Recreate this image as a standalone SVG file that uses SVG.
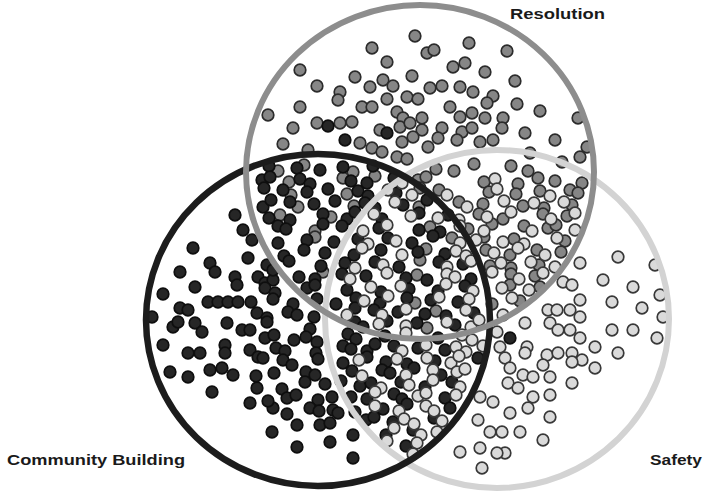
<svg xmlns="http://www.w3.org/2000/svg" width="706" height="491" viewBox="0 0 706 491">
<style>
.lbl{font-family:"Liberation Sans",Arial,sans-serif;font-weight:bold;font-size:15px;fill:#1a1a1a}
.ring{fill:none}
</style>
<defs>
<circle id="g" r="5.8" fill="#868686" stroke="#2b2b2b" stroke-width="1.7"/>
<circle id="k" r="5.8" fill="#262626" stroke="#0e0e0e" stroke-width="1.7"/>
<circle id="w" r="5.8" fill="#dadada" stroke="#383838" stroke-width="1.7"/>
</defs>
<rect width="706" height="491" fill="#fff"/>
<g id="dots-resolution">
<use href="#g" x="415" y="36"/><use href="#g" x="372" y="48"/><use href="#g" x="469" y="43"/><use href="#g" x="507" y="51"/><use href="#g" x="427" y="53"/><use href="#g" x="434" y="50"/><use href="#g" x="387" y="62"/><use href="#g" x="453" y="67"/><use href="#g" x="465" y="63"/><use href="#g" x="485" y="72"/><use href="#g" x="300" y="70"/><use href="#g" x="355" y="77"/><use href="#g" x="412" y="76"/><use href="#g" x="515" y="81"/><use href="#g" x="317" y="86"/><use href="#g" x="340" y="92"/><use href="#g" x="338" y="100"/><use href="#g" x="370" y="87"/><use href="#g" x="383" y="80"/><use href="#g" x="393" y="86"/><use href="#g" x="430" y="88"/><use href="#g" x="442" y="86"/><use href="#g" x="460" y="87"/><use href="#g" x="473" y="92"/><use href="#g" x="493" y="96"/><use href="#g" x="387" y="99"/><use href="#g" x="407" y="97"/><use href="#g" x="418" y="99"/><use href="#g" x="300" y="107"/><use href="#g" x="362" y="107"/><use href="#g" x="372" y="107"/><use href="#g" x="450" y="107"/><use href="#g" x="487" y="103"/><use href="#g" x="517" y="104"/><use href="#g" x="540" y="111"/><use href="#g" x="268" y="115"/><use href="#g" x="397" y="112"/><use href="#g" x="403" y="118"/><use href="#g" x="422" y="118"/><use href="#g" x="460" y="117"/><use href="#g" x="472" y="113"/><use href="#g" x="485" y="118"/><use href="#g" x="578" y="118"/><use href="#g" x="503" y="118"/><use href="#g" x="317" y="123"/><use href="#g" x="340" y="123"/><use href="#g" x="352" y="122"/><use href="#g" x="293" y="128"/><use href="#g" x="380" y="130"/><use href="#g" x="400" y="127"/><use href="#g" x="410" y="123"/><use href="#g" x="422" y="130"/><use href="#g" x="442" y="128"/><use href="#g" x="462" y="132"/><use href="#g" x="472" y="128"/><use href="#g" x="502" y="128"/><use href="#g" x="525" y="133"/><use href="#g" x="555" y="140"/><use href="#g" x="283" y="144"/><use href="#g" x="360" y="143"/><use href="#g" x="402" y="142"/><use href="#g" x="413" y="137"/><use href="#g" x="428" y="147"/><use href="#g" x="438" y="138"/><use href="#g" x="457" y="140"/><use href="#g" x="480" y="142"/><use href="#g" x="493" y="140"/><use href="#g" x="587" y="147"/><use href="#g" x="308" y="150"/><use href="#g" x="372" y="148"/><use href="#g" x="382" y="152"/><use href="#g" x="397" y="157"/><use href="#g" x="407" y="159"/><use href="#g" x="530" y="153"/><use href="#g" x="562" y="162"/><use href="#g" x="580" y="157"/>
<use href="#g" x="278" y="171"/><use href="#g" x="304" y="165"/><use href="#g" x="353" y="172"/><use href="#g" x="436" y="169"/><use href="#g" x="454" y="171"/><use href="#g" x="474" y="164"/><use href="#g" x="511" y="166"/><use href="#g" x="528" y="171"/>
<use href="#g" x="289" y="182"/><use href="#g" x="343" y="178"/><use href="#g" x="375" y="176"/><use href="#g" x="418" y="180"/><use href="#g" x="426" y="177"/><use href="#g" x="484" y="182"/><use href="#g" x="518" y="184"/><use href="#g" x="538" y="178"/><use href="#g" x="555" y="181"/><use href="#g" x="582" y="183"/>
<use href="#g" x="291" y="195"/><use href="#g" x="347" y="194"/><use href="#g" x="420" y="188"/><use href="#g" x="439" y="190"/><use href="#g" x="489" y="192"/><use href="#g" x="516" y="194"/><use href="#g" x="540" y="191"/><use href="#g" x="570" y="190"/><use href="#g" x="578" y="193"/>
<use href="#g" x="298" y="207"/><use href="#g" x="354" y="206"/><use href="#g" x="419" y="207"/><use href="#g" x="459" y="202"/><use href="#g" x="483" y="204"/><use href="#g" x="523" y="206"/><use href="#g" x="544" y="208"/><use href="#g" x="572" y="205"/>
<use href="#g" x="280" y="215"/><use href="#g" x="331" y="217"/><use href="#g" x="479" y="214"/><use href="#g" x="503" y="219"/><use href="#g" x="543" y="214"/><use href="#g" x="567" y="216"/>
<use href="#g" x="315" y="231"/><use href="#g" x="430" y="227"/><use href="#g" x="468" y="229"/><use href="#g" x="492" y="224"/><use href="#g" x="524" y="226"/><use href="#g" x="548" y="228"/><use href="#g" x="556" y="225"/>
<use href="#g" x="315" y="237"/><use href="#g" x="452" y="238"/><use href="#g" x="484" y="237"/><use href="#g" x="514" y="239"/><use href="#g" x="565" y="241"/>
<use href="#g" x="426" y="249"/><use href="#g" x="486" y="250"/><use href="#g" x="510" y="255"/><use href="#g" x="537" y="250"/><use href="#g" x="561" y="252"/>
<use href="#g" x="420" y="260"/><use href="#g" x="490" y="266"/><use href="#g" x="511" y="268"/><use href="#g" x="539" y="265"/>
<use href="#g" x="323" y="272"/><use href="#g" x="417" y="275"/><use href="#g" x="511" y="274"/><use href="#g" x="535" y="276"/>
<use href="#g" x="510" y="285"/><use href="#g" x="540" y="287"/>
<use href="#g" x="415" y="303"/><use href="#g" x="492" y="304"/><use href="#g" x="520" y="301"/>
<use href="#g" x="436" y="311"/><use href="#g" x="427" y="328"/>
</g>
<g id="dots-community">
<use href="#k" x="328" y="126"/><use href="#k" x="345" y="140"/><use href="#k" x="387" y="133"/><use href="#k" x="510" y="338"/>
<use href="#k" x="193" y="248"/><use href="#k" x="210" y="263"/><use href="#k" x="215" y="272"/><use href="#k" x="180" y="272"/><use href="#k" x="235" y="277"/><use href="#k" x="237" y="285"/><use href="#k" x="195" y="287"/><use href="#k" x="163" y="294"/><use href="#k" x="208" y="302"/><use href="#k" x="218" y="302"/><use href="#k" x="228" y="302"/><use href="#k" x="238" y="302"/><use href="#k" x="180" y="308"/><use href="#k" x="188" y="310"/><use href="#k" x="152" y="317"/><use href="#k" x="173" y="327"/><use href="#k" x="178" y="322"/><use href="#k" x="195" y="323"/><use href="#k" x="202" y="332"/><use href="#k" x="227" y="323"/><use href="#k" x="242" y="330"/><use href="#k" x="250" y="330"/><use href="#k" x="163" y="345"/><use href="#k" x="188" y="353"/><use href="#k" x="200" y="353"/><use href="#k" x="225" y="345"/><use href="#k" x="225" y="353"/><use href="#k" x="250" y="350"/><use href="#k" x="258" y="357"/><use href="#k" x="170" y="372"/><use href="#k" x="188" y="377"/><use href="#k" x="210" y="370"/><use href="#k" x="222" y="368"/><use href="#k" x="233" y="375"/><use href="#k" x="212" y="392"/><use href="#k" x="257" y="388"/><use href="#k" x="250" y="403"/><use href="#k" x="273" y="408"/><use href="#k" x="272" y="432"/><use href="#k" x="297" y="425"/><use href="#k" x="320" y="425"/><use href="#k" x="297" y="447"/><use href="#k" x="330" y="442"/><use href="#k" x="353" y="435"/><use href="#k" x="353" y="458"/><use href="#k" x="248" y="258"/><use href="#k" x="258" y="277"/><use href="#k" x="265" y="283"/><use href="#k" x="273" y="280"/><use href="#k" x="267" y="265"/><use href="#k" x="273" y="270"/><use href="#k" x="235" y="215"/><use href="#k" x="243" y="230"/><use href="#k" x="252" y="240"/><use href="#k" x="333" y="410"/><use href="#k" x="330" y="423"/>
<use href="#k" x="265" y="288"/><use href="#k" x="275" y="293"/><use href="#k" x="251" y="302"/><use href="#k" x="273" y="299"/><use href="#k" x="293" y="304"/><use href="#k" x="257" y="313"/><use href="#k" x="267" y="318"/><use href="#k" x="288" y="312"/><use href="#k" x="297" y="315"/><use href="#k" x="314" y="317"/><use href="#k" x="267" y="322"/><use href="#k" x="310" y="329"/><use href="#k" x="265" y="338"/><use href="#k" x="274" y="335"/><use href="#k" x="294" y="340"/><use href="#k" x="306" y="337"/><use href="#k" x="317" y="342"/><use href="#k" x="276" y="348"/><use href="#k" x="285" y="351"/><use href="#k" x="316" y="353"/><use href="#k" x="263" y="358"/><use href="#k" x="283" y="360"/><use href="#k" x="292" y="365"/><use href="#k" x="318" y="359"/><use href="#k" x="256" y="376"/><use href="#k" x="274" y="373"/><use href="#k" x="306" y="372"/><use href="#k" x="315" y="375"/><use href="#k" x="282" y="389"/><use href="#k" x="305" y="382"/><use href="#k" x="325" y="384"/><use href="#k" x="268" y="401"/><use href="#k" x="287" y="398"/><use href="#k" x="296" y="395"/><use href="#k" x="318" y="400"/><use href="#k" x="332" y="397"/><use href="#k" x="287" y="414"/><use href="#k" x="310" y="408"/><use href="#k" x="319" y="411"/><use href="#k" x="338" y="413"/>
<use href="#k" x="269" y="166"/><use href="#k" x="297" y="168"/><use href="#k" x="320" y="170"/><use href="#k" x="343" y="167"/><use href="#k" x="373" y="166"/>
<use href="#k" x="262" y="180"/><use href="#k" x="270" y="177"/><use href="#k" x="300" y="179"/><use href="#k" x="310" y="184"/><use href="#k" x="351" y="181"/><use href="#k" x="367" y="183"/><use href="#k" x="394" y="178"/>
<use href="#k" x="264" y="188"/><use href="#k" x="283" y="190"/><use href="#k" x="307" y="192"/><use href="#k" x="328" y="189"/><use href="#k" x="358" y="191"/><use href="#k" x="368" y="196"/><use href="#k" x="396" y="193"/>
<use href="#k" x="263" y="207"/><use href="#k" x="271" y="200"/><use href="#k" x="290" y="202"/><use href="#k" x="314" y="204"/><use href="#k" x="335" y="201"/><use href="#k" x="365" y="203"/><use href="#k" x="375" y="208"/><use href="#k" x="403" y="205"/><use href="#k" x="427" y="200"/>
<use href="#k" x="269" y="218"/><use href="#k" x="290" y="220"/><use href="#k" x="323" y="214"/><use href="#k" x="347" y="219"/><use href="#k" x="355" y="212"/><use href="#k" x="382" y="219"/><use href="#k" x="419" y="213"/><use href="#k" x="448" y="215"/>
<use href="#k" x="278" y="226"/><use href="#k" x="286" y="229"/><use href="#k" x="323" y="224"/><use href="#k" x="342" y="226"/><use href="#k" x="379" y="228"/><use href="#k" x="419" y="230"/><use href="#k" x="440" y="232"/>
<use href="#k" x="278" y="243"/><use href="#k" x="307" y="240"/><use href="#k" x="334" y="242"/><use href="#k" x="358" y="239"/><use href="#k" x="388" y="238"/><use href="#k" x="412" y="243"/><use href="#k" x="433" y="236"/>
<use href="#k" x="284" y="256"/><use href="#k" x="304" y="250"/><use href="#k" x="325" y="253"/><use href="#k" x="354" y="255"/><use href="#k" x="381" y="250"/><use href="#k" x="418" y="252"/><use href="#k" x="445" y="254"/>
<use href="#k" x="289" y="261"/><use href="#k" x="321" y="266"/><use href="#k" x="345" y="263"/><use href="#k" x="375" y="262"/><use href="#k" x="399" y="267"/><use href="#k" x="439" y="262"/><use href="#k" x="463" y="264"/>
<use href="#k" x="299" y="277"/><use href="#k" x="315" y="279"/><use href="#k" x="342" y="274"/><use href="#k" x="366" y="276"/><use href="#k" x="406" y="278"/><use href="#k" x="427" y="280"/><use href="#k" x="471" y="279"/>
<use href="#k" x="307" y="288"/><use href="#k" x="315" y="285"/><use href="#k" x="347" y="290"/><use href="#k" x="381" y="292"/><use href="#k" x="409" y="289"/><use href="#k" x="438" y="291"/><use href="#k" x="465" y="286"/>
<use href="#k" x="317" y="299"/><use href="#k" x="336" y="304"/><use href="#k" x="356" y="298"/><use href="#k" x="380" y="303"/><use href="#k" x="407" y="298"/><use href="#k" x="431" y="300"/><use href="#k" x="458" y="302"/>
<use href="#k" x="355" y="308"/><use href="#k" x="374" y="310"/><use href="#k" x="398" y="312"/><use href="#k" x="425" y="314"/><use href="#k" x="446" y="316"/><use href="#k" x="474" y="313"/>
<use href="#k" x="355" y="322"/><use href="#k" x="363" y="327"/><use href="#k" x="387" y="321"/><use href="#k" x="417" y="323"/><use href="#k" x="455" y="325"/>
<use href="#k" x="348" y="334"/><use href="#k" x="356" y="339"/><use href="#k" x="385" y="336"/><use href="#k" x="438" y="338"/>
<use href="#k" x="343" y="346"/><use href="#k" x="351" y="349"/><use href="#k" x="367" y="351"/><use href="#k" x="375" y="344"/><use href="#k" x="394" y="346"/><use href="#k" x="418" y="348"/><use href="#k" x="445" y="350"/>
<use href="#k" x="343" y="363"/><use href="#k" x="367" y="357"/><use href="#k" x="386" y="362"/><use href="#k" x="407" y="364"/><use href="#k" x="435" y="361"/><use href="#k" x="478" y="358"/>
<use href="#k" x="352" y="371"/><use href="#k" x="382" y="370"/><use href="#k" x="390" y="373"/><use href="#k" x="414" y="368"/><use href="#k" x="441" y="375"/>
<use href="#k" x="341" y="381"/><use href="#k" x="360" y="386"/><use href="#k" x="371" y="383"/><use href="#k" x="401" y="382"/><use href="#k" x="425" y="387"/><use href="#k" x="452" y="382"/>
<use href="#k" x="351" y="397"/><use href="#k" x="367" y="399"/><use href="#k" x="394" y="394"/><use href="#k" x="402" y="399"/><use href="#k" x="445" y="398"/>
<use href="#k" x="355" y="412"/><use href="#k" x="383" y="409"/><use href="#k" x="407" y="404"/><use href="#k" x="450" y="408"/>
<use href="#k" x="366" y="420"/><use href="#k" x="374" y="417"/><use href="#k" x="393" y="422"/><use href="#k" x="434" y="418"/>
<use href="#k" x="386" y="435"/><use href="#k" x="413" y="430"/><use href="#k" x="406" y="446"/>
</g>
<g id="dots-safety">
<use href="#w" x="402" y="183"/><use href="#w" x="495" y="179"/>
<use href="#w" x="388" y="190"/><use href="#w" x="412" y="195"/><use href="#w" x="447" y="195"/><use href="#w" x="497" y="189"/><use href="#w" x="550" y="196"/>
<use href="#w" x="395" y="202"/><use href="#w" x="467" y="207"/><use href="#w" x="504" y="201"/><use href="#w" x="534" y="203"/><use href="#w" x="564" y="202"/>
<use href="#w" x="374" y="214"/><use href="#w" x="411" y="216"/><use href="#w" x="438" y="218"/><use href="#w" x="459" y="220"/><use href="#w" x="487" y="217"/><use href="#w" x="511" y="212"/><use href="#w" x="551" y="219"/><use href="#w" x="575" y="213"/>
<use href="#w" x="363" y="231"/><use href="#w" x="387" y="225"/><use href="#w" x="460" y="226"/><use href="#w" x="484" y="231"/><use href="#w" x="532" y="231"/><use href="#w" x="575" y="230"/>
<use href="#w" x="368" y="244"/><use href="#w" x="396" y="241"/><use href="#w" x="460" y="243"/><use href="#w" x="476" y="240"/><use href="#w" x="503" y="242"/><use href="#w" x="524" y="244"/><use href="#w" x="557" y="238"/>
<use href="#w" x="362" y="248"/><use href="#w" x="402" y="255"/><use href="#w" x="456" y="251"/><use href="#w" x="466" y="256"/><use href="#w" x="494" y="253"/><use href="#w" x="518" y="248"/><use href="#w" x="545" y="255"/>
<use href="#w" x="355" y="268"/><use href="#w" x="383" y="265"/><use href="#w" x="447" y="267"/><use href="#w" x="471" y="261"/><use href="#w" x="501" y="263"/><use href="#w" x="531" y="262"/><use href="#w" x="555" y="267"/>
<use href="#w" x="350" y="279"/><use href="#w" x="387" y="273"/><use href="#w" x="447" y="274"/><use href="#w" x="455" y="277"/><use href="#w" x="492" y="272"/><use href="#w" x="519" y="279"/><use href="#w" x="543" y="273"/>
<use href="#w" x="371" y="287"/><use href="#w" x="401" y="286"/><use href="#w" x="446" y="284"/><use href="#w" x="473" y="291"/><use href="#w" x="502" y="288"/><use href="#w" x="529" y="290"/>
<use href="#w" x="364" y="301"/><use href="#w" x="388" y="296"/><use href="#w" x="439" y="297"/><use href="#w" x="469" y="299"/><use href="#w" x="512" y="298"/>
<use href="#w" x="347" y="315"/><use href="#w" x="382" y="315"/><use href="#w" x="406" y="309"/><use href="#w" x="466" y="310"/><use href="#w" x="503" y="315"/>
<use href="#w" x="379" y="324"/><use href="#w" x="406" y="326"/><use href="#w" x="447" y="322"/><use href="#w" x="471" y="327"/><use href="#w" x="479" y="320"/>
<use href="#w" x="406" y="333"/><use href="#w" x="462" y="335"/><use href="#w" x="472" y="340"/>
<use href="#w" x="402" y="351"/><use href="#w" x="426" y="345"/><use href="#w" x="456" y="347"/><use href="#w" x="466" y="352"/><use href="#w" x="483" y="346"/>
<use href="#w" x="359" y="360"/><use href="#w" x="397" y="359"/><use href="#w" x="427" y="358"/><use href="#w" x="451" y="363"/><use href="#w" x="459" y="356"/>
<use href="#w" x="362" y="376"/><use href="#w" x="406" y="375"/><use href="#w" x="433" y="370"/><use href="#w" x="457" y="372"/><use href="#w" x="465" y="369"/>
<use href="#w" x="381" y="388"/><use href="#w" x="409" y="385"/><use href="#w" x="433" y="380"/><use href="#w" x="460" y="387"/>
<use href="#w" x="375" y="392"/><use href="#w" x="418" y="396"/><use href="#w" x="426" y="393"/><use href="#w" x="456" y="395"/>
<use href="#w" x="375" y="406"/><use href="#w" x="399" y="411"/><use href="#w" x="426" y="406"/><use href="#w" x="434" y="411"/>
<use href="#w" x="404" y="419"/><use href="#w" x="414" y="424"/><use href="#w" x="442" y="421"/>
<use href="#w" x="394" y="428"/><use href="#w" x="421" y="435"/><use href="#w" x="437" y="432"/>
<use href="#w" x="387" y="441"/><use href="#w" x="417" y="443"/><use href="#w" x="413" y="454"/>
<use href="#w" x="618" y="257"/><use href="#w" x="655" y="265"/><use href="#w" x="580" y="263"/><use href="#w" x="603" y="280"/><use href="#w" x="633" y="287"/><use href="#w" x="563" y="282"/><use href="#w" x="572" y="285"/><use href="#w" x="660" y="295"/><use href="#w" x="580" y="300"/><use href="#w" x="612" y="302"/><use href="#w" x="642" y="308"/><use href="#w" x="548" y="310"/><use href="#w" x="557" y="310"/><use href="#w" x="570" y="310"/><use href="#w" x="580" y="317"/><use href="#w" x="663" y="317"/><use href="#w" x="550" y="323"/><use href="#w" x="558" y="330"/><use href="#w" x="570" y="330"/><use href="#w" x="580" y="338"/><use href="#w" x="612" y="330"/><use href="#w" x="633" y="330"/><use href="#w" x="657" y="338"/><use href="#w" x="525" y="323"/><use href="#w" x="527" y="347"/><use href="#w" x="525" y="353"/><use href="#w" x="595" y="347"/><use href="#w" x="618" y="353"/><use href="#w" x="547" y="355"/><use href="#w" x="558" y="353"/><use href="#w" x="572" y="353"/><use href="#w" x="582" y="360"/><use href="#w" x="572" y="362"/><use href="#w" x="543" y="365"/><use href="#w" x="595" y="368"/><use href="#w" x="505" y="358"/><use href="#w" x="510" y="368"/><use href="#w" x="523" y="375"/><use href="#w" x="533" y="377"/><use href="#w" x="550" y="377"/><use href="#w" x="572" y="383"/><use href="#w" x="508" y="383"/><use href="#w" x="518" y="388"/><use href="#w" x="533" y="397"/><use href="#w" x="550" y="395"/><use href="#w" x="528" y="408"/><use href="#w" x="510" y="413"/><use href="#w" x="550" y="417"/><use href="#w" x="520" y="432"/><use href="#w" x="543" y="440"/><use href="#w" x="505" y="453"/><use href="#w" x="502" y="432"/><use href="#w" x="480" y="397"/><use href="#w" x="493" y="402"/><use href="#w" x="478" y="420"/><use href="#w" x="490" y="432"/><use href="#w" x="460" y="452"/><use href="#w" x="480" y="448"/><use href="#w" x="482" y="468"/><use href="#w" x="497" y="453"/><use href="#w" x="500" y="347"/><use href="#w" x="497" y="332"/>
</g>
<g id="safety">
<ellipse class="ring" cx="497" cy="319" rx="172" ry="169" stroke="#d3d3d3" stroke-width="6"/>
<text class="lbl" x="650" y="465" textLength="52" lengthAdjust="spacingAndGlyphs">Safety</text>
</g>
<g id="community-building">
<ellipse class="ring" cx="318" cy="320" rx="172" ry="166" stroke="#1c1c1c" stroke-width="6.5"/>
<text class="lbl" x="7" y="465" textLength="178" lengthAdjust="spacingAndGlyphs">Community Building</text>
</g>
<g id="resolution">
<ellipse class="ring" cx="420" cy="172" rx="174" ry="167" stroke="#8d8d8d" stroke-width="6"/>
<text class="lbl" x="510" y="19" textLength="95" lengthAdjust="spacingAndGlyphs">Resolution</text>
</g>
<g id="connectors"/>
</svg>
